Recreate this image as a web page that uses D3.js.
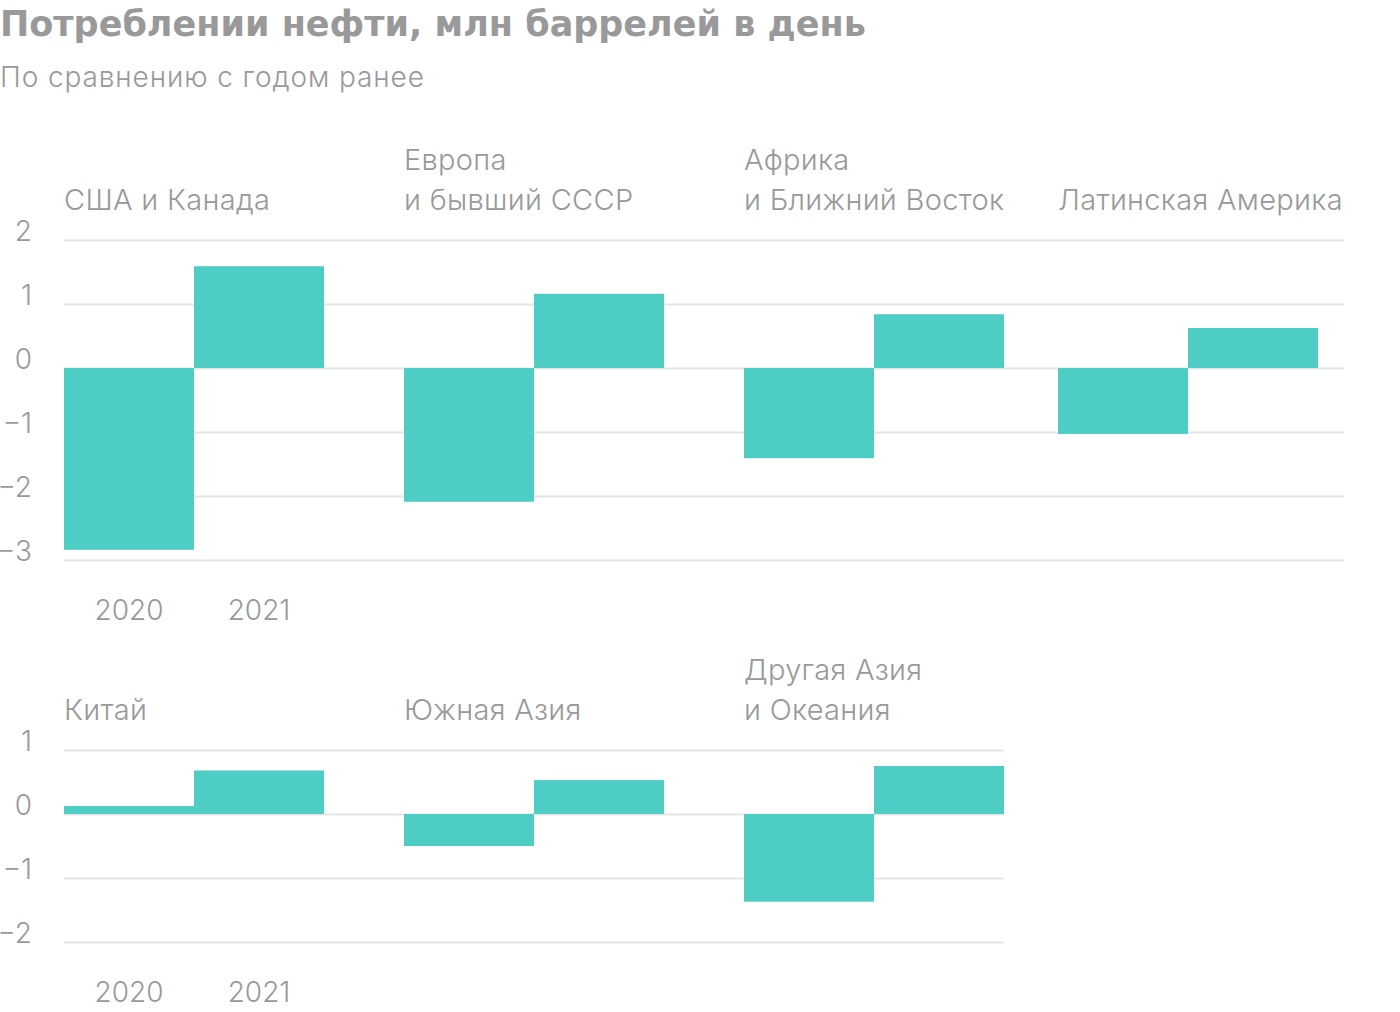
<!DOCTYPE html>
<html><head><meta charset="utf-8">
<script src="https://cdn.jsdelivr.net/npm/d3@7"></script>
<style>
body{margin:0;background:#fff;}
svg text{fill:#999;}
</style></head>
<body><svg id="c" width="1400" height="1012"></svg>
<script>
const title = "Потреблении нефти, млн баррелей в день";
const subtitle = "По сравнению с годом ранее";
const years = ["2020", "2021"];
const regionsTop = [["США и Канада"], ["Европа", "и бывший СССР"], ["Африка", "и Ближний Восток"], ["Латинская Америка"]];
const valuesTop = [[-2.84, 1.59], [-2.09, 1.16], [-1.41, 0.84], [-1.03, 0.625]];
const ticksTop = [2, 1, 0, -1, -2, -3];
const regionsBottom = [["Китай"], ["Южная Азия"], ["Другая Азия", "и Океания"]];
const valuesBottom = [[0.125, 0.68], [-0.5, 0.53], [-1.37, 0.75]];
const ticksBottom = [1, 0, -1, -2];

const svg = d3.select("#c");
const barColor = "#4ecdc4";
const bodyFont = "Inter, Roboto, sans-serif";
const fmt = d => d < 0 ? "\u2212" + Math.abs(d) : String(d);

svg.append("text").attr("x", 0).attr("y", 36)
  .style("font-family", "'DejaVu Sans', sans-serif").style("font-size", "35px").style("font-weight", 700)
  .text(title);
svg.append("text").attr("x", 0).attr("y", 87)
  .style("font-family", bodyFont).style("font-size", "28px").style("font-weight", 300).style("letter-spacing", "0.9px")
  .text(subtitle);

function label(sel) {
  return sel.style("font-family", bodyFont).style("font-size", "29px").style("font-weight", 300).style("fill", "#999");
}

function row(regions, values, ticks, yTop, yBottom, panelX, gridEnd) {
  const y = d3.scaleLinear().domain([d3.min(ticks), d3.max(ticks)]).range([yBottom, yTop]);
  const g = svg.append("g").attr("transform", "translate(64,0)");
  const axis = d3.axisLeft(y).tickValues(ticks).tickSize(-(gridEnd - 64)).tickPadding(32).tickFormat(fmt);
  g.call(axis);
  g.select(".domain").remove();
  g.selectAll(".tick line").attr("stroke", "#e6e6e6").attr("stroke-width", 2);
  label(g.selectAll(".tick text").attr("dy", 0)).style("font-size", "28px");

  const x = d3.scaleBand().domain(years).range([0, 260]).padding(0);
  regions.forEach((name, i) => {
    const pg = svg.append("g").attr("transform", `translate(${panelX[i]},0)`);
    pg.selectAll("rect").data(values[i]).join("rect")
      .attr("x", (d, j) => x(years[j]))
      .attr("width", x.bandwidth())
      .attr("y", d => Math.min(y(d), y(0)))
      .attr("height", d => Math.abs(y(d) - y(0)))
      .attr("fill", barColor);
    const t = label(pg.append("text")).style("letter-spacing", "0.3px");
    name.forEach((line, k) => {
      t.append("tspan").attr("x", 0).attr("y", yTop - 30 - (name.length - 1 - k) * 40).text(line);
    });
  });
  const lg = svg.append("g").attr("transform", `translate(${panelX[0]},0)`);
  label(lg.selectAll("text").data(years).join("text"))
    .attr("x", d => x(d) + x.bandwidth() / 2)
    .attr("y", yBottom + 60)
    .attr("text-anchor", "middle").style("font-size", "28px")
    .text(d => d);
}

row(regionsTop, valuesTop, ticksTop, 240, 560, [64, 404, 744, 1058], 1344);
row(regionsBottom, valuesBottom, ticksBottom, 750, 942, [64, 404, 744], 1004);
</script></body></html>
